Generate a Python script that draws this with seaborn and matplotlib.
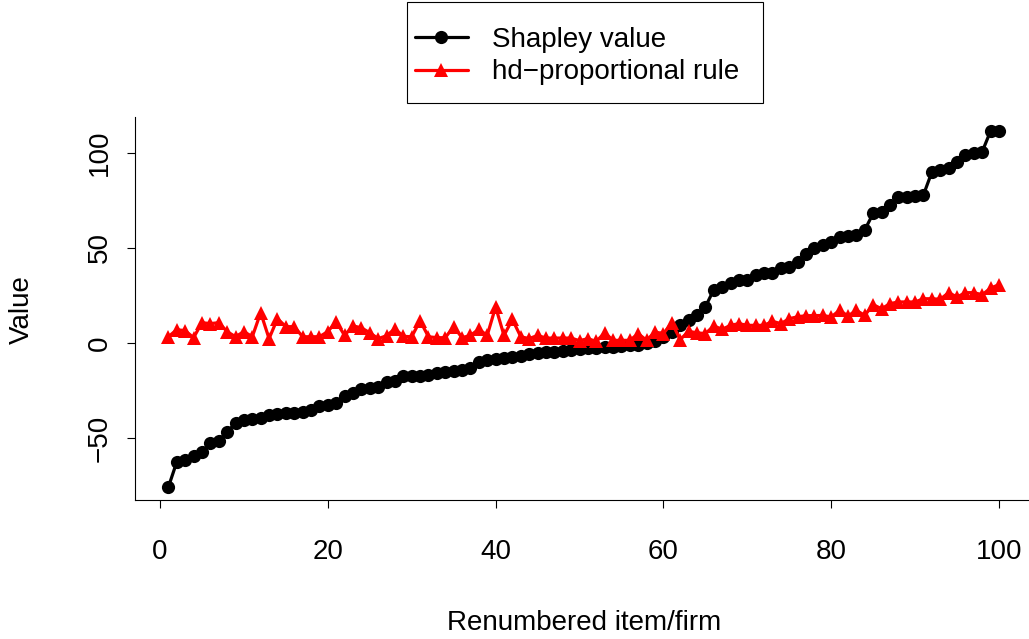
import matplotlib
matplotlib.use('Agg')
import numpy as np
import pandas as pd
import seaborn as sns
import matplotlib.pyplot as plt

# renumbered items 1..100, sorted by Shapley value
items = list(range(1, 101))

shapley = [-75.8, -62.6, -61.6, -59.3, -57.2, -52.8, -51.6, -46.7, -42.3, -40.5,
           -40.2, -39.3, -37.9, -37.4, -36.7, -36.7, -36.1, -35.3, -33.2, -32.6,
           -31.8, -27.9, -26.5, -24.4, -23.8, -23.0, -20.6, -19.9, -17.4, -17.4,
           -17.2, -16.8, -15.9, -15.5, -14.8, -14.2, -13.2, -10.0, -9.0, -8.4,
           -7.9, -7.3, -6.6, -6.0, -5.5, -5.0, -4.5, -4.0, -3.6, -3.2,
           -2.8, -2.5, -2.2, -1.9, -1.6, -1.2, -0.8, -0.2, 1.2, 3.2,
           6.0, 9.5, 12.0, 14.7, 19.0, 28.0, 29.3, 31.4, 33.0, 33.2,
           35.8, 36.8, 37.0, 39.5, 40.2, 42.8, 47.0, 49.8, 51.6, 53.3,
           56.0, 56.3, 56.8, 59.5, 68.2, 68.8, 72.6, 77.0, 77.1, 77.4,
           78.0, 90.0, 91.0, 92.0, 95.4, 99.0, 99.8, 100.7, 111.6, 111.7]

hd_rule = [3.3, 7.0, 6.5, 2.8, 10.7, 10.2, 10.7, 6.0, 3.3, 6.0,
           3.3, 16.0, 2.3, 12.8, 8.6, 8.6, 3.3, 3.3, 3.3, 6.0,
           11.2, 4.0, 9.0, 8.0, 5.4, 2.3, 3.8, 7.5, 3.5, 3.3,
           11.7, 3.3, 2.8, 2.8, 8.6, 2.8, 4.0, 7.2, 4.0, 19.0,
           4.0, 12.4, 3.3, 2.3, 4.0, 2.6, 2.6, 2.6, 2.6, 1.2,
           2.3, 0.8, 5.4, 1.4, 1.4, 1.4, 4.9, 1.4, 5.8, 4.9,
           10.7, 1.8, 6.1, 5.4, 4.9, 9.0, 7.2, 9.3, 10.2, 9.3,
           9.3, 9.3, 11.4, 10.2, 12.8, 13.8, 14.4, 14.4, 14.5, 13.7,
           17.2, 14.2, 17.2, 14.5, 20.2, 18.0, 20.7, 21.6, 21.6, 21.6,
           23.3, 23.3, 23.0, 26.5, 24.2, 26.5, 26.5, 25.4, 28.9, 30.7]

x_ticks = [0, 20, 40, 60, 80, 100]
y_ticks = [-50, 0, 50, 100]

df = pd.DataFrame({'item': items, 'shapley': shapley, 'hd': hd_rule})

sns.set_style('ticks')
plt.rcParams['font.family'] = ['Liberation Sans', 'DejaVu Sans']
plt.rcParams['text.color'] = 'black'
plt.rcParams['axes.labelcolor'] = 'black'

W, H = 1029, 639
fig = plt.figure(figsize=(W / 100, H / 100), dpi=100)
ax = fig.add_axes([135 / W, 1 - 500 / H, (W - 135) / W, 383 / H])

sns.lineplot(data=df, x='item', y='shapley', color='black', linewidth=2.3,
             marker='o', markersize=9.5, markeredgewidth=0,
             label='Shapley value', ax=ax)
sns.lineplot(data=df, x='item', y='hd', color='red', linewidth=2.3,
             marker='^', markersize=10.5, markeredgewidth=0,
             label='hd\u2212proportional rule', ax=ax)

ax.set_xlim((135 - 160) / 8.39, (W - 160) / 8.39)
ax.set_ylim((343 - 500) / 1.9, (343 - 117) / 1.9)
ax.set_xticks(x_ticks)
ax.set_yticks(y_ticks)

for s in ['top', 'right']:
    ax.spines[s].set_visible(False)
for s in ['left', 'bottom']:
    ax.spines[s].set_color('black')
    ax.spines[s].set_linewidth(0.8)

ax.tick_params(axis='both', direction='out', length=5.8, width=0.8,
               colors='black', labelsize=20, bottom=True, left=True)
ax.tick_params(axis='x', pad=22)
ax.tick_params(axis='y', pad=10, labelrotation=90)
for lab in ax.get_yticklabels():
    lab.set_va('center')

ax.set_xlabel('Renumbered item/firm', fontsize=20)
ax.set_ylabel('Value', fontsize=20)
ax.xaxis.set_label_coords(0.502, -0.321)
ax.xaxis.label.set_va('center')
ax.yaxis.set_label_coords(-0.1264, 0.496)
ax.yaxis.label.set_va('center')

handles, labels = ax.get_legend_handles_labels()
ax.get_legend().remove()
fig.legend(handles, labels, loc='center left',
           bbox_to_anchor=(415 / W, 1 - 56 / H), frameon=False,
           borderpad=0, borderaxespad=0, handlelength=1.9,
           handletextpad=0.86, labelspacing=0.25, fontsize=20)
fig.add_artist(plt.Rectangle((407 / W, 1 - 103 / H), 356 / W, 101 / H,
                             transform=fig.transFigure, fill=False,
                             edgecolor='black', linewidth=0.8))

fig.savefig('out.png', dpi=100)
